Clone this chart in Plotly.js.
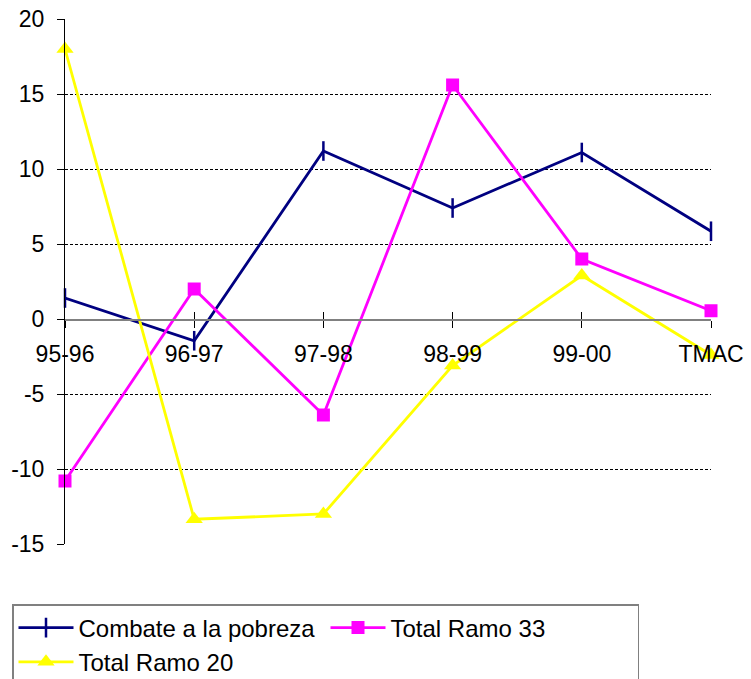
<!DOCTYPE html>
<html>
<head>
<meta charset="utf-8">
<script src="https://cdn.plot.ly/plotly-3.0.1.min.js"></script>
<style>html,body{margin:0;padding:0;background:#fff;}#chart{width:751px;height:679px;}</style>
</head>
<body>
<div id="chart"></div>
<script>
const categories = ["95-96", "96-97", "97-98", "98-99", "99-00", "TMAC"];
const combatePobreza = [1.4, -1.45, 11.2, 7.4, 11.1, 5.85];
const totalRamo33 = [-10.8, 2.0, -6.4, 15.6, 4.0, 0.55];
const totalRamo20 = [18.0, -13.35, -13.0, -3.1, 2.9, -2.4];
const yTicks = [-15, -10, -5, 0, 5, 10, 15, 20];

const font = "Liberation Sans, Arial, sans-serif";

const traces = [
  {
    x: categories, y: combatePobreza, name: "Combate a la pobreza",
    type: "scatter", mode: "lines+markers", cliponaxis: false,
    line: {color: "#000080", width: 2.8},
    marker: {symbol: "line-ns", size: 14, line: {color: "#000080", width: 2.5}, color: "#000080"}
  },
  {
    x: categories, y: totalRamo33, name: "Total Ramo 33",
    type: "scatter", mode: "lines+markers", cliponaxis: false,
    line: {color: "#FF00FF", width: 2.8},
    marker: {symbol: "square", size: 13, color: "#FF00FF"}
  },
  {
    x: categories, y: totalRamo20, name: "Total Ramo 20",
    type: "scatter", mode: "lines+markers", cliponaxis: false,
    line: {color: "#FFFF00", width: 2.8},
    marker: {symbol: "triangle-up", size: 15, color: "#FFFF00"}
  },
  {
    x: categories, y: [null, null, null, null, null, null], xaxis: "x2",
    showlegend: false, hoverinfo: "skip", type: "scatter", mode: "lines"
  }
];

const xPos = 15 / 35;

const layout = {
  width: 751, height: 679,
  margin: {l: 65, r: 40, t: 19, b: 135},
  paper_bgcolor: "#ffffff", plot_bgcolor: "#ffffff",
  font: {family: font, size: 23, color: "#000"},
  showlegend: true,
  xaxis: {
    type: "category", categoryarray: categories, range: [0, 5],
    anchor: "free", position: xPos,
    showline: true, linecolor: "#808080", linewidth: 1.5,
    ticks: "outside", ticklen: 7, tickcolor: "#000", tickwidth: 1,
    showgrid: false, zeroline: false,
    tickfont: {family: font, size: 23, color: "#000"},
    ticklabelstandoff: 7
  },
  xaxis2: {
    type: "category", categoryarray: categories, range: [0, 5],
    overlaying: "x", anchor: "free", position: xPos,
    showline: false, ticks: "inside", ticklen: 7, tickcolor: "#000", tickwidth: 1,
    showticklabels: false, showgrid: false, zeroline: false
  },
  yaxis: {
    range: [-15, 20], tickvals: yTicks, ticktext: yTicks.map(String),
    showline: true, linecolor: "#000", linewidth: 1,
    ticks: "outside", ticklen: 7, tickcolor: "#000",
    showgrid: true, gridcolor: "#000", gridwidth: 1, griddash: "3px,2px",
    zeroline: false,
    tickfont: {family: font, size: 23, color: "#000"},
    ticklabelstandoff: 8
  },
  legend: {
    orientation: "h",
    xref: "container", yref: "container",
    x: 12 / 751, xanchor: "left",
    y: (679 - 604) / 679, yanchor: "top",
    bordercolor: "#808080", borderwidth: 1.5,
    bgcolor: "#ffffff",
    font: {family: font, size: 24, color: "#000"},
    entrywidth: 242,
    itemwidth: 55
  }
};

Plotly.newPlot("chart", traces, layout, {displayModeBar: false, staticPlot: true});
</script>
</body>
</html>
